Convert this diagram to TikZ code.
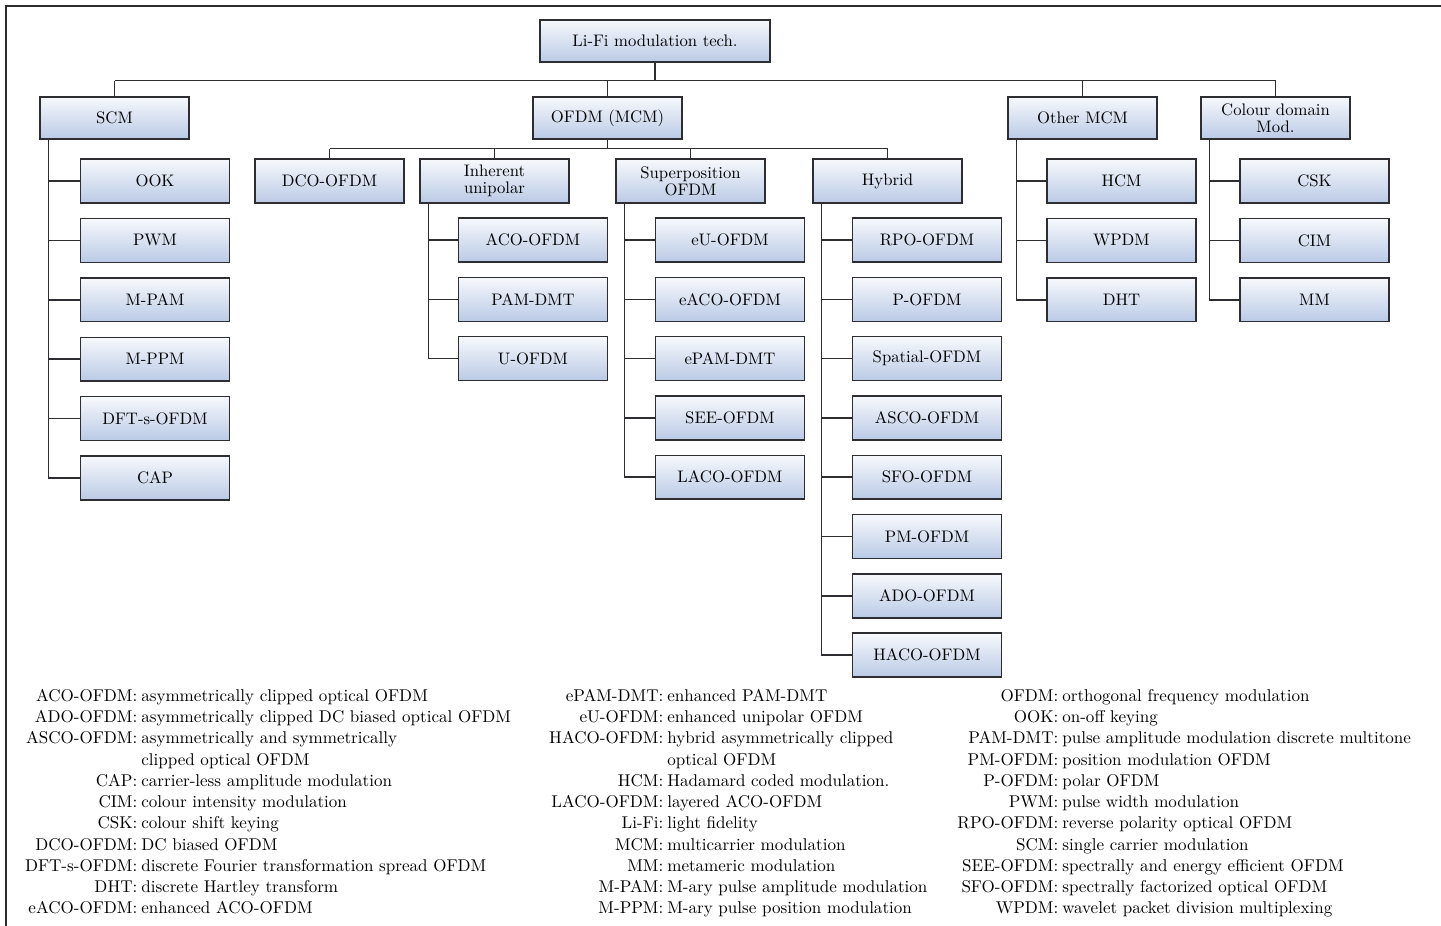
\documentclass[tikz,border=0pt]{standalone}
\usepackage{array}
\usepackage{tikz}
\usepackage{xcolor}
\definecolor{boxblue}{RGB}{186,202,230}
\definecolor{ink}{RGB}{45,45,50}
\tikzset{tech/.style={draw=ink, line width=0.8pt, top color=boxblue!12, bottom color=boxblue,
   minimum width=2.98cm, minimum height=0.88cm, inner sep=1pt, align=center,
   text=black, font=\fontsize{9.5}{9.5}\selectfont},
 cat/.style={tech, minimum height=0.84cm},
 wire/.style={draw=ink, line width=0.8pt},
 legend/.style={anchor=north west, inner sep=0pt, text=black,
   font=\fontsize{9.7}{12.1}\selectfont},
 }
\newcolumntype{T}{>{\raggedleft\arraybackslash}p{2.5cm}@{\hspace{0.08cm}}l}

\begin{document}
\begin{tikzpicture}[x=0.02cm, y=-0.02cm]
        \useasboundingbox (0,0) rectangle (1441,926);
        \draw[wire, line width=0.9pt] (6,926) -- (6,6) -- (1441,6);
        % top levels
        \node[cat, minimum width=4.6cm] (root) at (655,41) {Li-Fi modulation tech.};
        \node[cat] (scm) at (114.5,118) {SCM};
        \node[cat] (ofdm) at (607.5,118) {OFDM (MCM)};
        \node[cat] (other) at (1082.5,118) {Other MCM};
        \node[cat] (colour) at (1275.5,118) {Colour domain\\Mod.};
        \node[tech] (dco) at (329.5,181) {DCO-OFDM};
        \node[tech] (inh) at (494.5,181) {Inherent\\unipolar};
        \node[tech] (sup) at (690.5,181) {Superposition\\OFDM};
        \node[tech] (hyb) at (887.5,181) {Hybrid};
        \draw[wire] (root.south) -- ++(0,18) coordinate (bus);
        \draw[wire] (bus -| scm.north) -- (bus -| colour.north);
        \foreach \n in {scm, ofdm, other, colour} {
            \draw[wire] (bus -| \n.north) -- (\n.north);
        }
        \draw[wire] (ofdm.south) -- ++(0,9) coordinate (obus);
        \draw[wire] (obus -| dco.north) -- (obus -| hyb.north);
        \foreach \n in {dco, inh, sup, hyb} {
            \draw[wire] (obus -| \n.north) -- (\n.north);
        }
        % leaves
        \foreach \t[count=\i] in {OOK, PWM, M-PAM, M-PPM, DFT-s-OFDM, CAP} {
            \node[tech] (scm\i) at (155,{181+59.4*(\i-1)}) {\t};
            \draw[wire] ([xshift=0.18cm]scm.south west) |- (scm\i.west);
        }
        \foreach \t[count=\i] in {ACO-OFDM, PAM-DMT, U-OFDM} {
            \node[tech] (inh\i) at (533,{240+59.3*(\i-1)}) {\t};
            \draw[wire] ([xshift=0.18cm]inh.south west) |- (inh\i.west);
        }
        \foreach \t[count=\i] in {eU-OFDM, eACO-OFDM, ePAM-DMT, SEE-OFDM, LACO-OFDM} {
            \node[tech] (sup\i) at (730,{240+59.3*(\i-1)}) {\t};
            \draw[wire] ([xshift=0.18cm]sup.south west) |- (sup\i.west);
        }
        \foreach \t[count=\i] in {RPO-OFDM, P-OFDM, Spatial-OFDM, ASCO-OFDM, SFO-OFDM, PM-OFDM, ADO-OFDM, HACO-OFDM} {
            \node[tech] (hyb\i) at (927,{240+59.3*(\i-1)}) {\t};
            \draw[wire] ([xshift=0.18cm]hyb.south west) |- (hyb\i.west);
        }
        \foreach \t[count=\i] in {HCM, WPDM, DHT} {
            \node[tech] (other\i) at (1121.5,{181+59.4*(\i-1)}) {\t};
            \draw[wire] ([xshift=0.18cm]other.south west) |- (other\i.west);
        }
        \foreach \t[count=\i] in {CSK, CIM, MM} {
            \node[tech] (colour\i) at (1314.5,{181+59.4*(\i-1)}) {\t};
            \draw[wire] ([xshift=0.18cm]colour.south west) |- (colour\i.west);
        }
        % abbreviations
        \node[legend] (abbr1) at (12,686) {\begin{tabular}{@{}T@{}}
            ACO-OFDM: & asymmetrically clipped optical OFDM\\
            ADO-OFDM: & asymmetrically clipped DC biased optical OFDM\\
            ASCO-OFDM: & asymmetrically and symmetrically\\
             & clipped optical OFDM\\
            CAP: & carrier-less amplitude modulation\\
            CIM: & colour intensity modulation\\
            CSK: & colour shift keying\\
            DCO-OFDM: & DC biased OFDM\\
            DFT-s-OFDM: & discrete Fourier transformation spread OFDM\\
            DHT: & discrete Hartley transform\\
            eACO-OFDM: & enhanced ACO-OFDM
        \end{tabular}};
        \node[legend] (abbr2) at (538,686) {\begin{tabular}{@{}T@{}}
            ePAM-DMT: & enhanced PAM-DMT\\
            eU-OFDM: & enhanced unipolar OFDM\\
            HACO-OFDM: & hybrid asymmetrically clipped\\
             & optical OFDM\\
            HCM: & Hadamard coded modulation.\\
            LACO-OFDM: & layered ACO-OFDM\\
            Li-Fi: & light fidelity\\
            MCM: & multicarrier modulation\\
            MM: & metameric modulation\\
            M-PAM: & M-ary pulse amplitude modulation\\
            M-PPM: & M-ary pulse position modulation
        \end{tabular}};
        \node[legend] (abbr3) at (933,686) {\begin{tabular}{@{}T@{}}
            OFDM: & orthogonal frequency modulation\\
            OOK: & on-off keying\\
            PAM-DMT: & pulse amplitude modulation discrete multitone\\
            PM-OFDM: & position modulation OFDM\\
            P-OFDM: & polar OFDM\\
            PWM: & pulse width modulation\\
            RPO-OFDM: & reverse polarity optical OFDM\\
            SCM: & single carrier modulation\\
            SEE-OFDM: & spectrally and energy efficient OFDM\\
            SFO-OFDM: & spectrally factorized optical OFDM\\
            WPDM: & wavelet packet division multiplexing
        \end{tabular}};
    \end{tikzpicture}
\end{document}
